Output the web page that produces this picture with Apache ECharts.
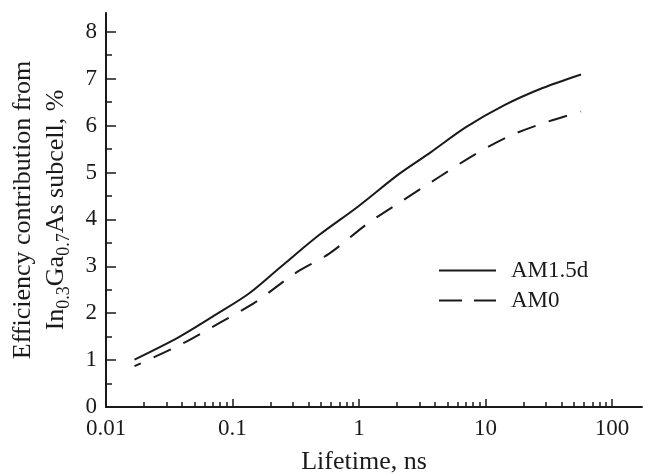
<!DOCTYPE html>
<html>
<head>
<meta charset="utf-8">
<script src="https://cdn.jsdelivr.net/npm/echarts@6/dist/echarts.min.js"></script>
<style>
html,body{margin:0;padding:0;background:#fff;}
#c{width:648px;height:476px;}
</style>
</head>
<body>
<div id="c"></div>
<script>
// ---- data ----
const lifetimeAM15d = [0.0168, 0.0377, 0.076, 0.135, 0.239, 0.481, 0.968, 2.08, 3.69, 6.97, 14.0, 28.3, 57];
const effAM15d      = [1.01, 1.49, 1.99, 2.42, 2.98, 3.66, 4.26, 4.97, 5.43, 5.96, 6.43, 6.80, 7.09];
const lifetimeAM0   = [0.0168, 0.0402, 0.081, 0.153, 0.308, 0.582, 1.17, 2.21, 4.46, 8.43, 15.9, 30.1, 57];
const effAM0        = [0.87, 1.35, 1.81, 2.24, 2.84, 3.27, 3.91, 4.40, 4.93, 5.40, 5.79, 6.07, 6.30];
const seriesNames   = ['AM1.5d', 'AM0'];
const xTickValues   = [0.01, 0.1, 1, 10, 100];
const xTickLabels   = ['0.01', '0.1', '1', '10', '100'];
const yTickLabels   = [0, 1, 2, 3, 4, 5, 6, 7, 8];
const xMin = 0.01, xMax = 173;
const yMin = 0, yMax = 8.4;

const L = Math.log10;
const FONT = 'Liberation Serif';
const INK = '#1a1a1a';

const majorX = xTickValues.map(L);
const minorX = [];
for (let d = -2; d <= 2; d++) for (let k = 2; k <= 9; k++) {
  const v = L(k) + d;
  if (v < L(xMax)) minorX.push(v);
}
const majorY = yTickLabels.slice();
const minorY = yTickLabels.slice(0, -1).map(v => v + 0.5);

const toPts = (xs, ys) => xs.map((x, i) => [L(x), ys[i]]);

const chart = echarts.init(document.getElementById('c'), null, {renderer: 'canvas'});
chart.setOption({
  animation: false,
  backgroundColor: '#fff',
  textStyle: {fontFamily: FONT, color: INK},
  grid: {left: 106, right: 6, top: 13, bottom: 69, containLabel: false, outerBoundsMode: 'none'},
  xAxis: [{
    type: 'value', min: L(xMin), max: L(xMax),
    position: 'bottom',
    name: 'Lifetime, ns', nameLocation: 'middle', nameGap: 42,
    nameTextStyle: {fontFamily: FONT, fontSize: 26, color: INK, padding: [0, 20, 0, 0]},
    axisLine: {show: true, onZero: false, lineStyle: {color: INK, width: 2}},
    axisTick: {show: true, inside: true, length: 8, customValues: majorX, lineStyle: {color: INK, width: 1.5}},
    axisLabel: {show: true, customValues: majorX, margin: 10, fontFamily: FONT, fontSize: 23, color: INK,
      formatter: v => { const i = majorX.findIndex(m => Math.abs(m - v) < 1e-6); return i >= 0 ? xTickLabels[i] : ''; }},
    splitLine: {show: false}
  }, {
    type: 'value', min: L(xMin), max: L(xMax),
    position: 'bottom',
    axisLine: {show: false, onZero: false},
    axisTick: {show: true, inside: true, length: 5, customValues: minorX, lineStyle: {color: INK, width: 1.5}},
    axisLabel: {show: false},
    splitLine: {show: false}
  }],
  yAxis: [{
    type: 'value', min: yMin, max: yMax,
    position: 'left',
    name: 'Efficiency contribution from\n{n|In}{s|0.3}{n|Ga}{s|0.7}{n|As subcell, %}',
    nameLocation: 'middle', nameGap: 33, nameRotate: 90,
    nameTextStyle: {fontFamily: FONT, fontSize: 26, color: INK, lineHeight: 33,
      rich: {
        n: {fontFamily: FONT, fontSize: 26, color: INK, lineHeight: 33},
        s: {fontFamily: FONT, fontSize: 18, color: INK, lineHeight: 16, verticalAlign: 'bottom'}
      }},
    axisLine: {show: true, onZero: false, lineStyle: {color: INK, width: 2}},
    axisTick: {show: true, inside: true, length: 10, customValues: majorY, lineStyle: {color: INK, width: 1.5}},
    axisLabel: {show: true, customValues: majorY, margin: 9, fontFamily: FONT, fontSize: 23, color: INK},
    splitLine: {show: false}
  }, {
    type: 'value', min: yMin, max: yMax,
    position: 'left',
    axisLine: {show: false, onZero: false},
    axisTick: {show: true, inside: true, length: 6, customValues: minorY, lineStyle: {color: INK, width: 1.5}},
    axisLabel: {show: false},
    splitLine: {show: false}
  }],
  legend: {
    orient: 'vertical', left: 434, top: 254,
    itemWidth: 57, itemHeight: 2, itemGap: 7,
    textStyle: {fontFamily: FONT, fontSize: 23, color: INK, padding: [0, 0, 0, 10]},
    data: [
      {name: seriesNames[0], icon: 'path://M0,0H57V2H0Z'},
      {name: seriesNames[1], icon: 'path://M0,0H23V2H0Z M35,0H57V2H35Z'}
    ]
  },
  series: [{
    name: seriesNames[0], type: 'line', xAxisIndex: 0, yAxisIndex: 0,
    data: toPts(lifetimeAM15d, effAM15d),
    symbol: 'none', smooth: 0.3,
    lineStyle: {color: INK, width: 2, type: 'solid'},
    itemStyle: {color: INK}
  }, {
    name: seriesNames[1], type: 'line', xAxisIndex: 0, yAxisIndex: 0,
    data: toPts(lifetimeAM0, effAM0),
    symbol: 'none', smooth: 0.3,
    lineStyle: {color: INK, width: 2, type: [19, 14], dashOffset: 12},
    itemStyle: {color: INK}
  }]
});
</script>
</body>
</html>
